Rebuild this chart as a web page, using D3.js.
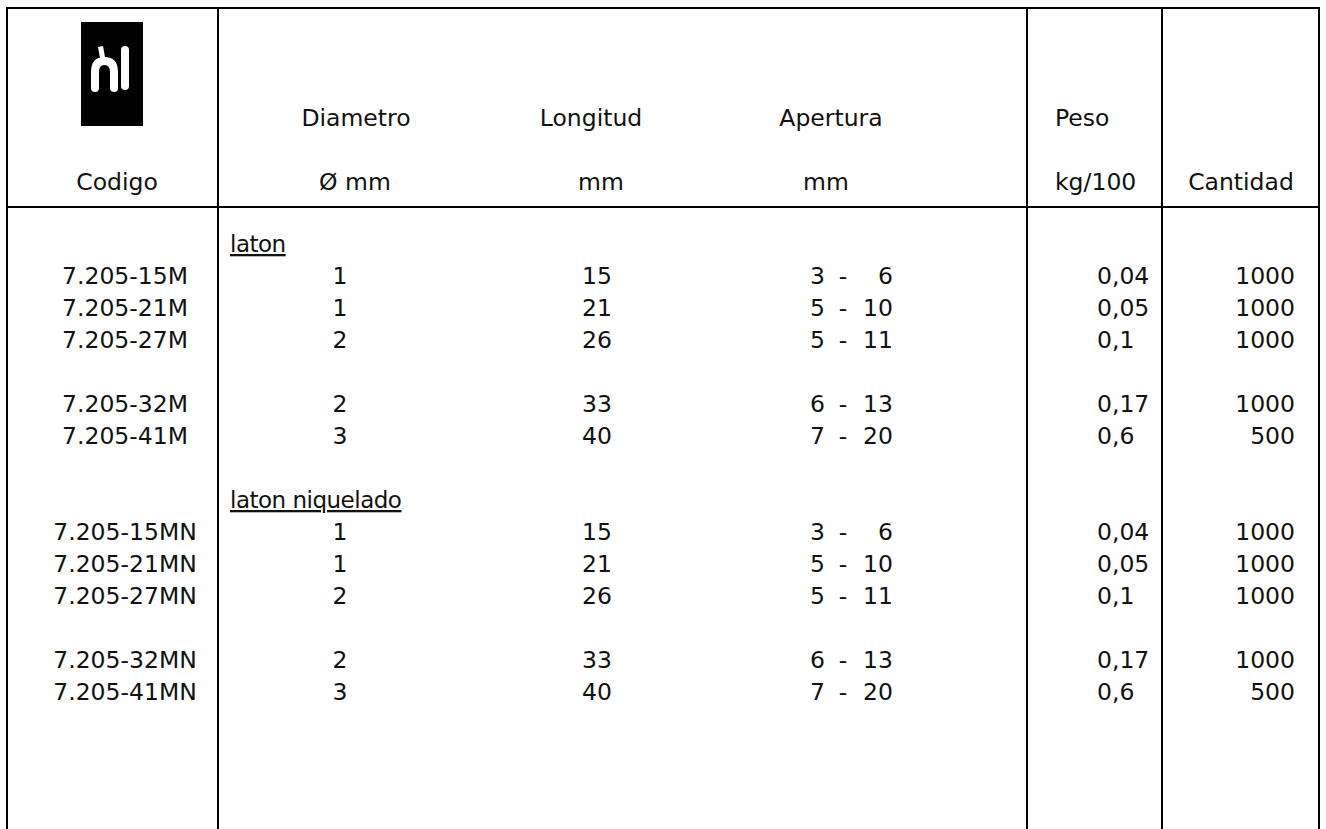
<!DOCTYPE html>
<html>
<head>
<meta charset="utf-8">
<script src="https://cdn.jsdelivr.net/npm/d3@7"></script>
<style>
  body { margin: 0; background: #fff; }
  svg text { font-family: "DejaVu Sans", sans-serif; font-size: 23.5px; fill: #111; }
</style>
</head>
<body>
<script>
// table contents
const groups = ["laton", "laton niquelado"];
const codes = [
  ["7.205-15M", "7.205-21M", "7.205-27M", "7.205-32M", "7.205-41M"],
  ["7.205-15MN", "7.205-21MN", "7.205-27MN", "7.205-32MN", "7.205-41MN"]
];
const diametro = [1, 1, 2, 2, 3];
const longitud = [15, 21, 26, 33, 40];
const aperturaMin = [3, 5, 5, 6, 7];
const aperturaMax = [6, 10, 11, 13, 20];
const peso = ["0,04", "0,05", "0,1", "0,17", "0,6"];
const cantidad = [1000, 1000, 1000, 1000, 500];

const W = 1326, H = 829;
const svg = d3.select("body").append("svg")
  .attr("width", W).attr("height", H);

// row index -> baseline
const y = d3.scaleLinear().domain([0, 13]).range([284, 700]);

// lay out rows: label line, items with a blank after the third, blank between groups
let rows = [];
let slot = -1;
groups.forEach(function(g, gi){
  rows.push({type: "label", text: g, slot: slot});
  slot++;
  codes[gi].forEach(function(c, i){
    if (i == 3) slot++;
    rows.push({type: "item", code: c, i: i, slot: slot});
    slot++;
  });
  slot++;
});

// grid lines
const vlines = [7, 218, 1027, 1162, 1319];
svg.selectAll("line.v").data(vlines).enter().append("line")
  .attr("x1", d => d).attr("x2", d => d)
  .attr("y1", 7).attr("y2", H)
  .attr("stroke", "#000").attr("stroke-width", 2);
[8, 207].forEach(function(yy){
  svg.append("line")
    .attr("x1", 6).attr("x2", 1320)
    .attr("y1", yy).attr("y2", yy)
    .attr("stroke", "#000").attr("stroke-width", 2);
});

// logo
const logo = svg.append("g").attr("transform", "translate(81,22)");
logo.append("rect").attr("width", 62).attr("height", 104).attr("fill", "#000");
logo.append("path").attr("d", "M17,25 L22,24 L24,35 L19,36 Z").attr("fill", "#fff");
logo.append("path")
  .attr("d", "M14,66 V50 Q14,39 23.5,39 Q33,39 33,50 V66")
  .attr("fill", "none").attr("stroke", "#fff").attr("stroke-width", 8)
  .attr("stroke-linecap", "round");
logo.append("path")
  .attr("d", "M44,28 V64")
  .attr("fill", "none").attr("stroke", "#fff").attr("stroke-width", 8)
  .attr("stroke-linecap", "round");

// header text
const header = [
  {t: "Codigo", x: 117, y: 190, a: "middle"},
  {t: "Diametro", x: 356, y: 126, a: "middle"},
  {t: "Ø mm", x: 355, y: 190, a: "middle"},
  {t: "Longitud", x: 591, y: 126, a: "middle"},
  {t: "mm", x: 601, y: 190, a: "middle"},
  {t: "Apertura", x: 831, y: 126, a: "middle"},
  {t: "mm", x: 826, y: 190, a: "middle"},
  {t: "Peso", x: 1055, y: 126, a: "start"},
  {t: "kg/100", x: 1055, y: 190, a: "start"},
  {t: "Cantidad", x: 1241, y: 190, a: "middle"}
];
svg.selectAll("text.h").data(header).enter().append("text")
  .attr("class", "h")
  .attr("x", d => d.x).attr("y", d => d.y)
  .attr("text-anchor", d => d.a)
  .text(d => d.t);

// group labels
svg.selectAll("text.g").data(rows.filter(r => r.type == "label")).enter().append("text")
  .attr("class", "g")
  .attr("x", 230).attr("y", d => y(d.slot))
  .style("font-size", "23px")
  .style("text-decoration", "underline")
  .style("letter-spacing", "-0.5px")
  .text(d => d.text);

// body cells
const items = rows.filter(r => r.type == "item");
const cols = [
  {x: 125, a: "middle", v: d => d.code},
  {x: 340, a: "middle", v: d => diametro[d.i]},
  {x: 582, a: "start", v: d => longitud[d.i]},
  {x: 810, a: "start", v: d => aperturaMin[d.i]},
  {x: 843, a: "middle", v: d => "-"},
  {x: 893, a: "end", v: d => aperturaMax[d.i]},
  {x: 1097, a: "start", v: d => peso[d.i]},
  {x: 1295, a: "end", v: d => cantidad[d.i]}
];
cols.forEach(function(c){
  svg.append("g").selectAll("text").data(items).enter().append("text")
    .attr("x", c.x).attr("y", d => y(d.slot))
    .attr("text-anchor", c.a)
    .text(c.v);
});
</script>
</body>
</html>
